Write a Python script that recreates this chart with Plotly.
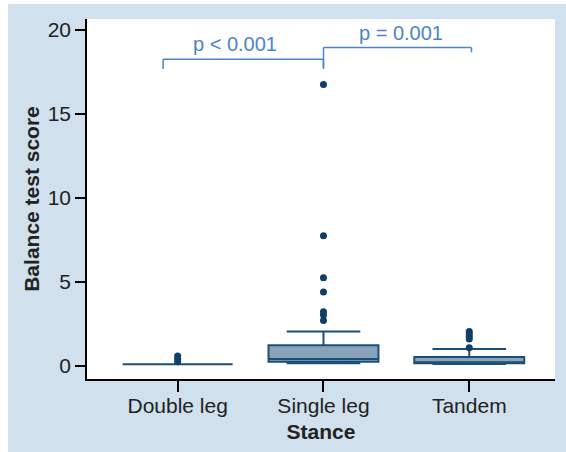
import plotly.graph_objects as go

# ---- data ----
categories = ["Double leg", "Single leg", "Tandem"]
q1 = [0.10, 0.26, 0.16]
median = [0.10, 0.42, 0.22]
q3 = [0.10, 1.23, 0.54]
lowerfence = [0.10, 0.16, 0.12]
upperfence = [0.10, 2.06, 1.01]
outliers = [
    [0.60, 0.42, 0.25],
    [16.75, 7.75, 5.25, 4.40, 3.23, 3.04, 2.70],
    [2.05, 1.90, 1.75, 1.60, 1.08],
]
y_ticks = [0, 5, 10, 15, 20]
comparisons = [("Double leg", "Single leg", "p < 0.001"),
               ("Single leg", "Tandem", "p = 0.001")]

# ---- style ----
BG = "#d0e0ec"
LINE = "#1b4f78"
FILL = "#8ba3b8"
DOT = "#0f3f66"
PCOL = "#4a86c8"
TXT = "#222222"
FONT = "Liberation Sans, Arial, sans-serif"

pos = {c: i for i, c in enumerate(categories)}

fig = go.Figure()
for i, c in enumerate(categories):
    fig.add_trace(go.Box(
        x=[i], q1=[q1[i]], median=[median[i]], q3=[q3[i]],
        lowerfence=[lowerfence[i]], upperfence=[upperfence[i]],
        width=0.754, whiskerwidth=0.67, boxpoints=False,
        fillcolor=FILL, line=dict(color=LINE, width=2),
        showlegend=False, hoverinfo="skip",
    ))
    fig.add_trace(go.Scatter(
        x=[i] * len(outliers[i]), y=outliers[i], mode="markers",
        marker=dict(color=DOT, size=7), showlegend=False, hoverinfo="skip",
    ))

# significance brackets
bracket_style = [
    dict(x0_off=-0.10, x1_off=0.0, top=18.26, left_drop=17.68, right_drop=17.68,
         tx=0.39, ty=19.17),
    dict(x0_off=0.0, x1_off=0.015, top=18.95, left_drop=17.76, right_drop=18.67,
         tx=1.53, ty=19.80),
]
shapes = [
    dict(type="rect", xref="paper", yref="paper",
         x0=(8 - 87) / 468, x1=(566 - 87) / 468,
         y0=-(452 - 379) / 360, y1=1 + (19 - 4) / 360,
         fillcolor=BG, line=dict(width=0), layer="below"),
    dict(type="rect", xref="x domain", yref="y domain", x0=0, x1=1, y0=0, y1=1,
         fillcolor="white", line=dict(width=0), layer="below"),
]
annotations = []
for (a, b, label), st in zip(comparisons, bracket_style):
    xa = pos[a] + st["x0_off"]
    xb = pos[b] + st["x1_off"]
    lw = dict(color=PCOL, width=1.5)
    shapes.append(dict(type="line", x0=xa, x1=xb, y0=st["top"], y1=st["top"], line=lw))
    shapes.append(dict(type="line", x0=xa, x1=xa, y0=st["top"], y1=st["left_drop"], line=lw))
    shapes.append(dict(type="line", x0=xb, x1=xb, y0=st["top"], y1=st["right_drop"], line=lw))
    annotations.append(dict(x=st["tx"], y=st["ty"], text=label, showarrow=False,
                            font=dict(size=20, color=PCOL, family=FONT),
                            xanchor="center", yanchor="middle"))

fig.update_layout(
    width=566, height=452,
    margin=dict(l=87, r=11, t=19, b=73),
    paper_bgcolor="white", plot_bgcolor="white",
    font=dict(family=FONT, size=21, color=TXT),
    shapes=shapes, annotations=annotations,
    xaxis=dict(
        range=[-0.622, 2.588], tickvals=list(range(len(categories))),
        ticktext=categories, showgrid=False, zeroline=False,
        showline=True, linecolor="black", linewidth=1.5,
        ticks="outside", ticklen=11, tickwidth=1.5, tickcolor="black",
        tickfont=dict(size=21, color=TXT), ticklabelstandoff=-4,
        title=dict(text="<b>Stance</b>", font=dict(size=21, color=TXT), standoff=8),
    ),
    yaxis=dict(
        range=[-0.774, 20.65], tickvals=y_ticks, showgrid=False, zeroline=False,
        showline=True, linecolor="black", linewidth=1.5,
        ticks="outside", ticklen=10, tickwidth=1.5, tickcolor="black",
        tickfont=dict(size=21, color=TXT),
        title=dict(text="<b>Balance test score</b>", font=dict(size=21, color=TXT), standoff=2),
    ),
)

fig.write_html("out.html", config={"displayModeBar": False},
               post_script="document.body.style.margin='0px';document.body.style.overflow='hidden';")
